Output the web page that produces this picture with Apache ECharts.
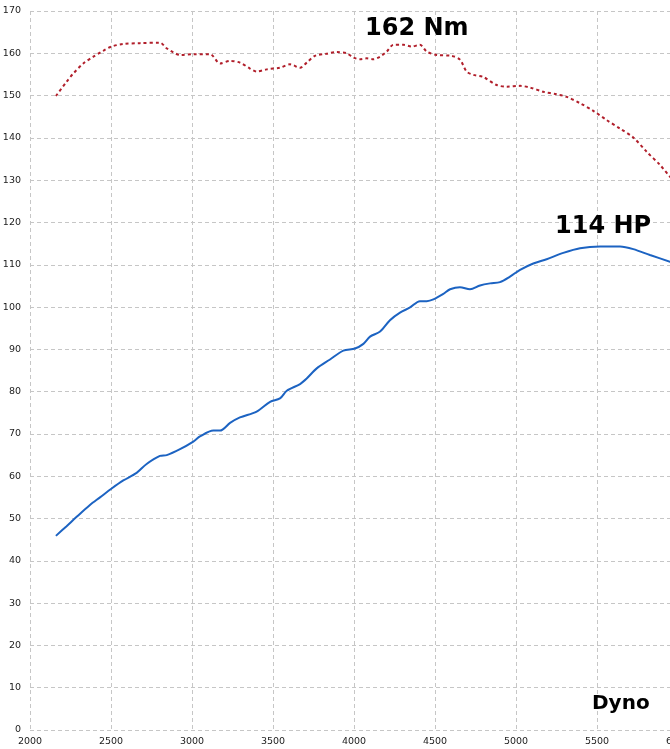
<!DOCTYPE html>
<html>
<head>
<meta charset="utf-8">
<script src="https://cdn.jsdelivr.net/npm/echarts@6/dist/echarts.min.js"></script>
<style>
  html, body { margin: 0; padding: 0; background: #fff; }
  #chart { width: 670px; height: 749px; }
</style>
</head>
<body>
<div id="chart"></div>
<script>
// torque curve (Nm)
const torqueRpm = [2160, 2226, 2267, 2329, 2391, 2452, 2504, 2576, 2679, 2802, 2843, 2885, 2926, 3008, 3111, 3173, 3235, 3296, 3358, 3399, 3461, 3543, 3605, 3667, 3708, 3759, 3831, 3893, 3955, 3996, 4037, 4078, 4119, 4161, 4202, 4243, 4305, 4356, 4407, 4449, 4510, 4603, 4654, 4695, 4737, 4798, 4881, 4943, 5025, 5086, 5169, 5251, 5313, 5395, 5477, 5560, 5642, 5724, 5807, 5889, 5951, 6000]
const torqueNm = [149.9, 153.3, 155.2, 157.6, 159.2, 160.6, 161.6, 162.2, 162.4, 162.5, 161.2, 160.2, 159.6, 159.8, 159.8, 157.6, 158.2, 157.8, 156.4, 155.7, 156.2, 156.6, 157.4, 156.6, 157.8, 159.4, 159.9, 160.3, 160.0, 159.0, 158.6, 158.8, 158.6, 159.2, 160.4, 162.0, 162.0, 161.6, 162.0, 160.4, 159.6, 159.4, 158.5, 155.7, 154.9, 154.4, 152.5, 152.1, 152.3, 151.9, 150.9, 150.3, 149.7, 148.2, 146.4, 144.2, 142.2, 140.1, 136.7, 133.6, 130.8, 129.2]

// power curve (HP)
const powerRpm = [2160, 2226, 2288, 2370, 2432, 2504, 2576, 2658, 2720, 2802, 2844, 2926, 3008, 3049, 3132, 3173, 3235, 3296, 3399, 3482, 3543, 3585, 3667, 3708, 3770, 3852, 3934, 4006, 4058, 4099, 4161, 4222, 4284, 4346, 4407, 4449, 4490, 4551, 4593, 4654, 4716, 4778, 4840, 4901, 4963, 5025, 5107, 5189, 5292, 5395, 5519, 5642, 5724, 5827, 5951, 6000]
const powerHp = [45.9, 48.2, 50.4, 53.2, 55.0, 57.1, 59.0, 60.8, 62.9, 64.8, 65.0, 66.4, 68.2, 69.4, 70.8, 70.8, 72.6, 73.9, 75.3, 77.6, 78.4, 80.2, 81.8, 83.1, 85.5, 87.6, 89.7, 90.2, 91.3, 93.0, 94.2, 96.9, 98.7, 99.9, 101.4, 101.4, 101.8, 103.1, 104.2, 104.7, 104.2, 105.1, 105.6, 105.9, 107.2, 108.8, 110.3, 111.3, 112.8, 113.9, 114.3, 114.3, 113.7, 112.3, 110.7, 110.0]

const torqueLabel = '162 Nm'
const powerLabel = '114 HP'
const brandLabel = 'Dyno'

const pairs = (xs, ys) => xs.map((x, i) => [x, ys[i]])

const gridLine = { show: true, lineStyle: { color: '#c6c6c6', type: [4, 3], width: 1 } }
const labelStyle = { color: '#222', fontFamily: 'DejaVu Sans', fontSize: 9.5 }

const chart = echarts.init(document.getElementById('chart'))

chart.setOption({
  backgroundColor: '#ffffff',
  animation: false,
  grid: { left: 30, top: 11, bottom: 19, width: 648, outerBoundsMode: 'none', containLabel: false },
  xAxis: {
    type: 'value',
    min: 2000,
    max: 6000,
    interval: 500,
    axisLine: { show: false },
    axisTick: { show: false },
    axisLabel: { ...labelStyle, margin: 7, showMaxLabel: true, formatter: v => String(v) },
    splitLine: gridLine
  },
  yAxis: {
    type: 'value',
    min: 0,
    max: 170,
    interval: 10,
    axisLine: { show: false },
    axisTick: { show: false },
    axisLabel: { ...labelStyle, margin: 9 },
    splitLine: gridLine
  },
  series: [
    {
      name: 'Torque',
      type: 'line',
      data: pairs(torqueRpm, torqueNm),
      showSymbol: false,
      smooth: 0.3,
      lineStyle: { color: '#b11f2b', width: 2, type: [3, 3] }
    },
    {
      name: 'Power',
      type: 'line',
      data: pairs(powerRpm, powerHp),
      showSymbol: false,
      smooth: 0.3,
      lineStyle: { color: '#1c63c2', width: 2 }
    }
  ],
  graphic: [
    {
      type: 'text',
      left: 365,
      top: 17,
      z: 100,
      style: { text: torqueLabel, font: 'bold 24px "DejaVu Sans"', fill: '#000' }
    },
    {
      type: 'text',
      left: 555,
      top: 215,
      z: 100,
      style: { text: powerLabel, font: 'bold 24px "DejaVu Sans"', fill: '#000' }
    },
    {
      type: 'text',
      left: 592,
      top: 694,
      z: 100,
      style: { text: brandLabel, font: 'bold 20px "DejaVu Sans"', fill: '#000' }
    }
  ]
})
</script>
</body>
</html>
